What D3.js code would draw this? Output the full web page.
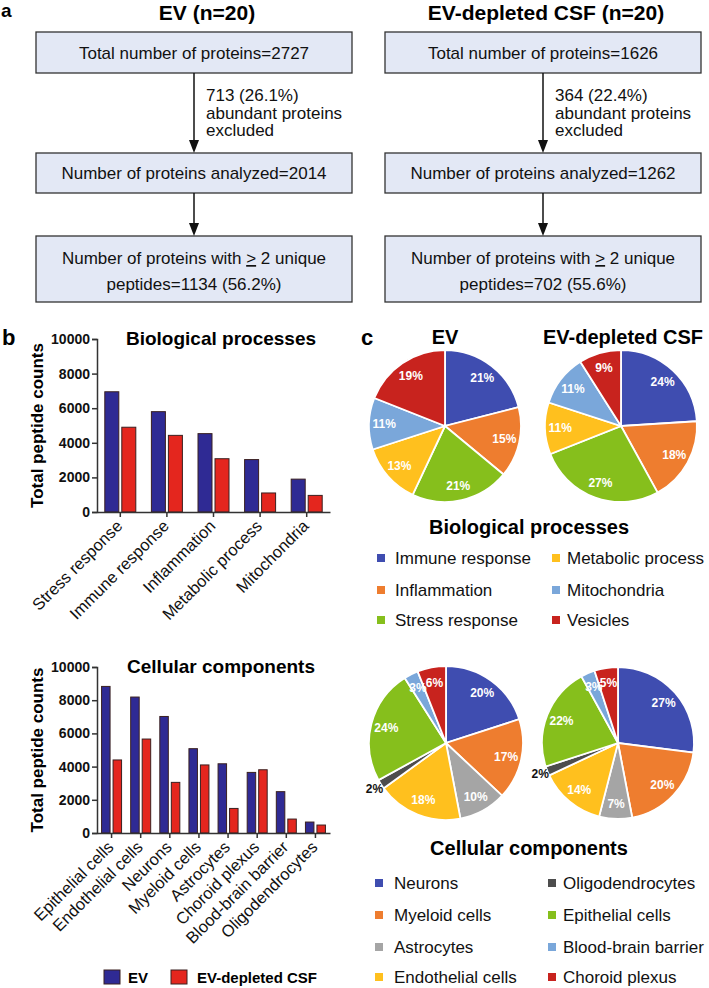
<!DOCTYPE html>
<html>
<head>
<meta charset="utf-8">
<script src="https://cdn.jsdelivr.net/npm/d3@7"></script>
<style>
  body { margin: 0; background: #fff; }
  text { font-family: "Liberation Sans", Arial, sans-serif; }
</style>
</head>
<body>
<script>
// ---- flowchart (panel a)
const flowTitles = ['EV (n=20)', 'EV-depleted CSF (n=20)'];
const totalProteins = [2727, 1626];
const excludedCounts = [713, 364];
const excludedPct = ['26.1%', '22.4%'];
const analyzedProteins = [2014, 1262];
const uniquePeptideProteins = [1134, 702];
const uniquePct = ['56.2%', '55.6%'];

// ---- bar charts (panel b)
const seriesNames = ['EV', 'EV-depleted CSF'];
const yTicks = [0, 2000, 4000, 6000, 8000, 10000];
const bioCategories = ['Stress response', 'Immune response', 'Inflammation', 'Metabolic process', 'Mitochondria'];
const bioEV = [6950, 5800, 4530, 3030, 1900];
const bioCSF = [4900, 4430, 3080, 1100, 960];
const cellCategories = ['Epithelial cells', 'Endothelial cells', 'Neurons', 'Myeloid cells', 'Astrocytes', 'Choroid plexus', 'Blood-brain barrier', 'Oligodendrocytes'];
const cellEV = [8830, 8190, 7020, 5080, 4170, 3650, 2490, 660];
const cellCSF = [4400, 5660, 3050, 4100, 1480, 3810, 840, 480];

// ---- pies (panel c), percent of total, clockwise from 12 o'clock
const bioPieLabels = ['Immune response', 'Inflammation', 'Stress response', 'Metabolic process', 'Mitochondria', 'Vesicles'];
const bioPieEV = [21, 15, 21, 13, 11, 19];
const bioPieCSF = [24, 18, 27, 11, 11, 9];
const cellPieLabels = ['Neurons', 'Myeloid cells', 'Astrocytes', 'Endothelial cells', 'Oligodendrocytes', 'Epithelial cells', 'Blood-brain barrier', 'Choroid plexus'];
const cellPieEV = [20, 17, 10, 18, 2, 24, 3, 6];
const cellPieCSF = [27, 20, 7, 14, 2, 22, 3, 5];

const barColors = ['#2f2a94', '#e4261e'];
const bioPieColors = ['#3f4db0', '#ee7d2f', '#86bf1c', '#ffc01e', '#7aa7da', '#c8231e'];
const cellPieColors = ['#3f4db0', '#ee7d2f', '#a5a5a5', '#ffc01e', '#4d4d4d', '#86bf1c', '#7aa7da', '#c8231e'];

const svg = d3.select('body').append('svg')
  .attr('width', 709)
  .attr('height', 988);

// panel letters
[['a', 1, 17], ['b', 2, 345], ['c', 361, 345]].forEach(([t, x, y]) => {
  svg.append('text').attr('x', x).attr('y', y)
    .style('font-size', t === 'a' ? '19px' : '22px').style('font-weight', 'bold').text(t);
});

// ================= panel a: flowchart
const colX = [36, 385];
const boxW = 316;
const rows = [[32, 73], [153, 193], [236, 302]];
const titleX = [207, 546];

colX.forEach((x0, i) => {
  const cx = x0 + boxW / 2;
  const g = svg.append('g');

  g.append('text')
    .attr('x', titleX[i]).attr('y', 20).attr('text-anchor', 'middle')
    .style('font-size', '21px').style('font-weight', 'bold')
    .text(flowTitles[i]);

  rows.forEach(([t, b]) => {
    g.append('rect')
      .attr('x', x0).attr('y', t).attr('width', boxW).attr('height', b - t)
      .attr('fill', '#e3e8f5').attr('stroke', '#333').attr('stroke-width', 1.3);
  });

  const boxText = (y, str) => g.append('text')
    .attr('x', cx).attr('y', y).attr('text-anchor', 'middle')
    .style('font-size', '17px').attr('fill', '#111').text(str);

  boxText(59, `Total number of proteins=${totalProteins[i]}`);
  boxText(179, `Number of proteins analyzed=${analyzedProteins[i]}`);
  const l1 = boxText(264, 'Number of proteins with ');
  l1.append('tspan').style('text-decoration', 'underline').text('>');
  l1.append('tspan').text(' 2 unique');
  boxText(290, `peptides=${uniquePeptideProteins[i]} (${uniquePct[i]})`);

  // arrows
  [[rows[0][1], rows[1][0]], [rows[1][1], rows[2][0]]].forEach(([y1, y2]) => {
    g.append('line').attr('x1', cx).attr('x2', cx).attr('y1', y1).attr('y2', y2 - 11)
      .attr('stroke', '#111').attr('stroke-width', 1.5);
    g.append('path')
      .attr('d', `M${cx - 5},${y2 - 13} L${cx + 5},${y2 - 13} L${cx},${y2} Z`)
      .attr('fill', '#111');
  });

  [`${excludedCounts[i]} (${excludedPct[i]})`, 'abundant proteins', 'excluded']
    .forEach((s, k) => {
      g.append('text')
        .attr('x', cx + 12).attr('y', 101 + k * 17.5)
        .style('font-size', '17px').attr('fill', '#111').text(s);
    });
});

// ================= panel b: grouped bars
function drawBars(cats, ev, csf, opt) {
  const g = svg.append('g');
  const x = d3.scaleBand().domain(cats).range([97, 330]);
  const y = d3.scaleLinear().domain([0, 10000]).range([opt.y0, opt.y1]);

  g.append('text')
    .attr('x', 221).attr('y', opt.y1 + 6).attr('text-anchor', 'middle')
    .style('font-size', '19px').style('font-weight', 'bold').text(opt.title);

  g.append('text')
    .attr('transform', `translate(43,${(opt.y0 + opt.y1) / 2}) rotate(-90)`)
    .attr('text-anchor', 'middle')
    .style('font-size', '17px').style('font-weight', 'bold')
    .text('Total peptide counts');

  [ev, csf].forEach((vals, s) => {
    g.selectAll(null).data(cats).enter().append('rect')
      .attr('x', d => x(d) + x.bandwidth() / 2 + (s === 0 ? -opt.gap / 2 - opt.barW : opt.gap / 2))
      .attr('y', (d, k) => y(vals[k]))
      .attr('width', opt.barW)
      .attr('height', (d, k) => y(0) - y(vals[k]))
      .attr('fill', barColors[s])
      .attr('stroke', '#3a2020').attr('stroke-width', 1);
  });

  const yAxis = g.append('g').attr('transform', 'translate(97,0)')
    .call(d3.axisLeft(y).tickValues(yTicks).tickSize(5).tickPadding(2).tickFormat(d3.format('d')));
  yAxis.selectAll('text').style('font-size', '14px').style('font-weight', 'bold').attr('fill', '#111');

  const xAxis = g.append('g').attr('transform', `translate(0,${opt.y0})`)
    .call(d3.axisBottom(x).tickSize(5).tickSizeOuter(0));
  xAxis.selectAll('text')
    .attr('x', 0).attr('y', 0)
    .attr('text-anchor', 'end')
    .attr('transform', 'translate(-1,11) rotate(-45)')
    .attr('dy', '0.35em')
    .attr('fill', '#111')
    .style('font-size', '16.5px');

  g.selectAll('.domain, .tick line').attr('stroke', '#333').attr('stroke-width', 1.5);
}

drawBars(bioCategories, bioEV, bioCSF, { y0: 512, y1: 339, barW: 14, gap: 3, title: 'Biological processes' });
drawBars(cellCategories, cellEV, cellCSF, { y0: 833, y1: 667, barW: 8.5, gap: 3, title: 'Cellular components' });

// bar legend
const barLegend = svg.append('g');
[[104, 128], [171, 197]].forEach(([sx, tx], i) => {
  barLegend.append('rect').attr('x', sx).attr('y', 970).attr('width', 16).attr('height', 14)
    .attr('fill', barColors[i]).attr('stroke', '#3a2020').attr('stroke-width', 1);
  barLegend.append('text').attr('x', tx).attr('y', 983)
    .style('font-size', '15px').style('font-weight', 'bold').text(seriesNames[i]);
});

// ================= panel c: pies
function drawPie(vals, colors, cx, cy, r, smallOutside) {
  const g = svg.append('g').attr('transform', `translate(${cx},${cy})`);
  const arcs = d3.pie().sort(null).value(d => d)(vals);
  const arc = d3.arc().innerRadius(0).outerRadius(r);
  const lab = d3.arc().innerRadius(r * 0.8).outerRadius(r * 0.8);
  const out = d3.arc().innerRadius(r * 1.1).outerRadius(r * 1.1);

  g.selectAll('path').data(arcs).enter().append('path')
    .attr('d', arc)
    .attr('fill', (d, i) => colors[i])
    .attr('stroke', '#fff').attr('stroke-width', 1.8);

  g.selectAll('text').data(arcs).enter().append('text')
    .attr('transform', d => `translate(${(d.value <= smallOutside ? out : lab).centroid(d)})`)
    .attr('text-anchor', 'middle').attr('dy', '0.35em')
    .style('font-size', '12px').style('font-weight', 'bold')
    .attr('fill', d => d.value <= smallOutside ? '#111' : '#fff')
    .text(d => d.value + '%');
}

svg.append('text').attr('x', 445).attr('y', 344).attr('text-anchor', 'middle')
  .style('font-size', '20px').style('font-weight', 'bold').text(seriesNames[0]);
svg.append('text').attr('x', 623).attr('y', 344).attr('text-anchor', 'middle')
  .style('font-size', '20px').style('font-weight', 'bold').text(seriesNames[1]);

drawPie(bioPieEV, bioPieColors, 445, 426, 76, 0);
drawPie(bioPieCSF, bioPieColors, 621, 426, 76, 0);
drawPie(cellPieEV, cellPieColors, 446, 743, 77, 2);
drawPie(cellPieCSF, cellPieColors, 618, 743, 76, 2);

function drawLegend(title, titleY, labels, colors, rowsY, cols) {
  const g = svg.append('g');
  g.append('text').attr('x', 529).attr('y', titleY).attr('text-anchor', 'middle')
    .style('font-size', '20px').style('font-weight', 'bold').text(title);
  const n = rowsY.length;
  labels.forEach((lbl, i) => {
    const c = cols[Math.floor(i / n)];
    const yy = rowsY[i % n];
    g.append('rect').attr('x', c[0]).attr('y', yy - 4).attr('width', 8).attr('height', 8)
      .attr('fill', colors[i]);
    g.append('text').attr('x', c[1]).attr('y', yy).attr('dy', '0.35em')
      .style('font-size', '17px').attr('fill', '#111').text(lbl);
  });
}

drawLegend('Biological processes', 534, bioPieLabels, bioPieColors, [558, 590, 620], [[377, 395], [552, 567]]);
drawLegend('Cellular components', 855, cellPieLabels, cellPieColors, [883, 915, 947, 977], [[375, 394], [548, 563]]);
</script>
</body>
</html>
